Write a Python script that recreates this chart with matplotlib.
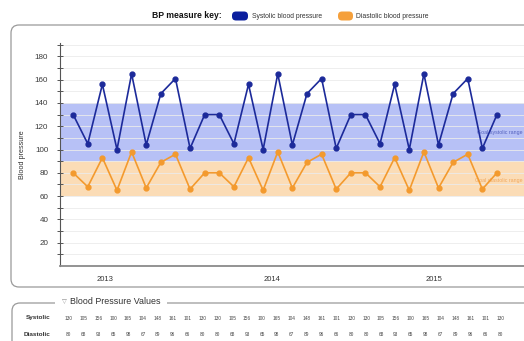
import matplotlib
matplotlib.use("Agg")
import matplotlib.pyplot as plt
import matplotlib.transforms as mtransforms
from matplotlib.patches import FancyBboxPatch, Rectangle
import numpy as np

plt.rcParams['font.family'] = ['Liberation Sans', 'DejaVu Sans']

# readings, one per visit
systolic = [130, 105, 156, 100, 165, 104, 148, 161, 101, 130,
            130, 105, 156, 100, 165, 104, 148, 161, 101, 130,
            130, 105, 156, 100, 165, 104, 148, 161, 101, 130]
diastolic = [80, 68, 93, 65, 98, 67, 89, 96, 66, 80,
             80, 68, 93, 65, 98, 67, 89, 96, 66, 80,
             80, 68, 93, 65, 98, 67, 89, 96, 66, 80]
years = ["2013", "2014", "2015"]
goal_systolic = (90, 140)
goal_diastolic = (60, 90)

SYS_COL = "#1c2a9a"
DIA_COL = "#f39a2e"
SYS_BAND = "#b7c1f6"
DIA_BAND = "#fbdcb6"

W, H = 524, 341
fig = plt.figure(figsize=(W / 100, H / 100), dpi=100)
fig.patch.set_facecolor("white")

# pixel coordinates measured from the bottom-left corner
px = mtransforms.Affine2D().scale(1 / 100) + fig.dpi_scale_trans


def py(y):
    return H - y


# outer chart frame, kept behind the axes
fig.add_artist(FancyBboxPatch((11, py(287)), 540, 262,
                              boxstyle="round,pad=0,rounding_size=8",
                              transform=px, fc="white", ec="#9a9a9a", lw=0.9,
                              zorder=-5))

ax = fig.add_axes([60 / W, 1 - 266 / H, (W - 60) / W, (266 - 43) / H])
ax.patch.set_alpha(0)
x = np.arange(len(systolic))
ax.set_xlim(-0.9, 30.85)
ax.set_ylim(0, 191.5)

ax.axhspan(*goal_systolic, color=SYS_BAND, lw=0, zorder=0)
ax.axhspan(*goal_diastolic, color=DIA_BAND, lw=0, zorder=0)
for g in range(10, 191, 10):
    ax.axhline(g, color="#ebebeb", lw=0.6, zorder=0.5)

ax.plot(x, systolic, color=SYS_COL, lw=1.2, marker="o", ms=3.5, zorder=3)
ax.plot(x, diastolic, color=DIA_COL, lw=1.2, marker="o", ms=3.5, zorder=3)

ax.text(30.75, 115, "Goal systolic range", color="#3a48b0", fontsize=3.8,
        ha="right", va="center", alpha=0.8)
ax.text(30.75, 73, "Goal diastolic range", color="#ee9a45", fontsize=3.8,
        ha="right", va="center", alpha=0.8)

for s in ["top", "right"]:
    ax.spines[s].set_visible(False)
ax.spines["left"].set_color("#555555")
ax.spines["left"].set_linewidth(0.8)
ax.spines["bottom"].set_color("#8a8a8a")
ax.spines["bottom"].set_linewidth(1.3)

ax.set_yticks(range(20, 181, 20))
ax.set_yticks(range(10, 191, 10), minor=True)
ax.tick_params(axis="y", which="both", direction="inout", length=5,
               width=0.7, color="#555555", labelsize=5.8, labelcolor="#3a3a3a", pad=6)
ax.set_xticks([])
ax.set_ylabel("Blood pressure", fontsize=5.2, color="#333333")
ax.yaxis.set_label_coords(-0.073, 0.5)

# year labels under the axis
year_pos = [2.2, 13.6, 24.7]
for pos, label in zip(year_pos, years):
    ax.text(pos, -12, label, fontsize=5.5, color="#333333", ha="center", va="center",
            clip_on=False)

# key at the top
fig.text(222 / W, 1 - 16 / H, "BP measure key:", fontsize=6.2, fontweight="bold",
         ha="right", va="center", color="#111111")
fig.add_artist(FancyBboxPatch((232, py(20.5)), 16, 9,
                              boxstyle="round,pad=0,rounding_size=4",
                              transform=px, fc="#0b1f9e", ec="none"))
fig.text(252 / W, 1 - 16 / H, "Systolic blood pressure", fontsize=4.9,
         ha="left", va="center", color="#333333")
fig.add_artist(FancyBboxPatch((338, py(20.5)), 15, 9,
                              boxstyle="round,pad=0,rounding_size=4",
                              transform=px, fc="#f5a03c", ec="none"))
fig.text(356 / W, 1 - 16 / H, "Diastolic blood pressure", fontsize=4.9,
         ha="left", va="center", color="#333333")

# values panel at the bottom
fig.add_artist(FancyBboxPatch((12, py(360)), 540, 57,
                              boxstyle="round,pad=0,rounding_size=8",
                              transform=px, fc="white", ec="#9a9a9a", lw=0.9,
                              zorder=-5))
fig.add_artist(Rectangle((55, py(308)), 112, 10, transform=px, fc="white", ec="none",
                         zorder=-4))
fig.text(62 / W, 1 - 302 / H, "\u25bd", fontsize=4.5, ha="left", va="center",
         color="#888888")
fig.text(70 / W, 1 - 302 / H, "Blood Pressure Values", fontsize=6.4,
         ha="left", va="center", color="#333333")

fig.text(50 / W, 1 - 318 / H, "Systolic", fontsize=4.6, fontweight="bold",
         ha="right", va="center", color="#333333")
fig.text(50 / W, 1 - 334 / H, "Diastolic", fontsize=4.6, fontweight="bold",
         ha="right", va="center", color="#333333")
for i, (s, d) in enumerate(zip(systolic, diastolic)):
    xp = (68.5 + i * 14.88) / W
    fig.text(xp, 1 - 318 / H, str(s), fontsize=3.4, ha="center", va="center",
             color="#444444")
    fig.text(xp, 1 - 334 / H, str(d), fontsize=3.4, ha="center", va="center",
             color="#444444")

fig.savefig("out.png", dpi=100, facecolor="white")
